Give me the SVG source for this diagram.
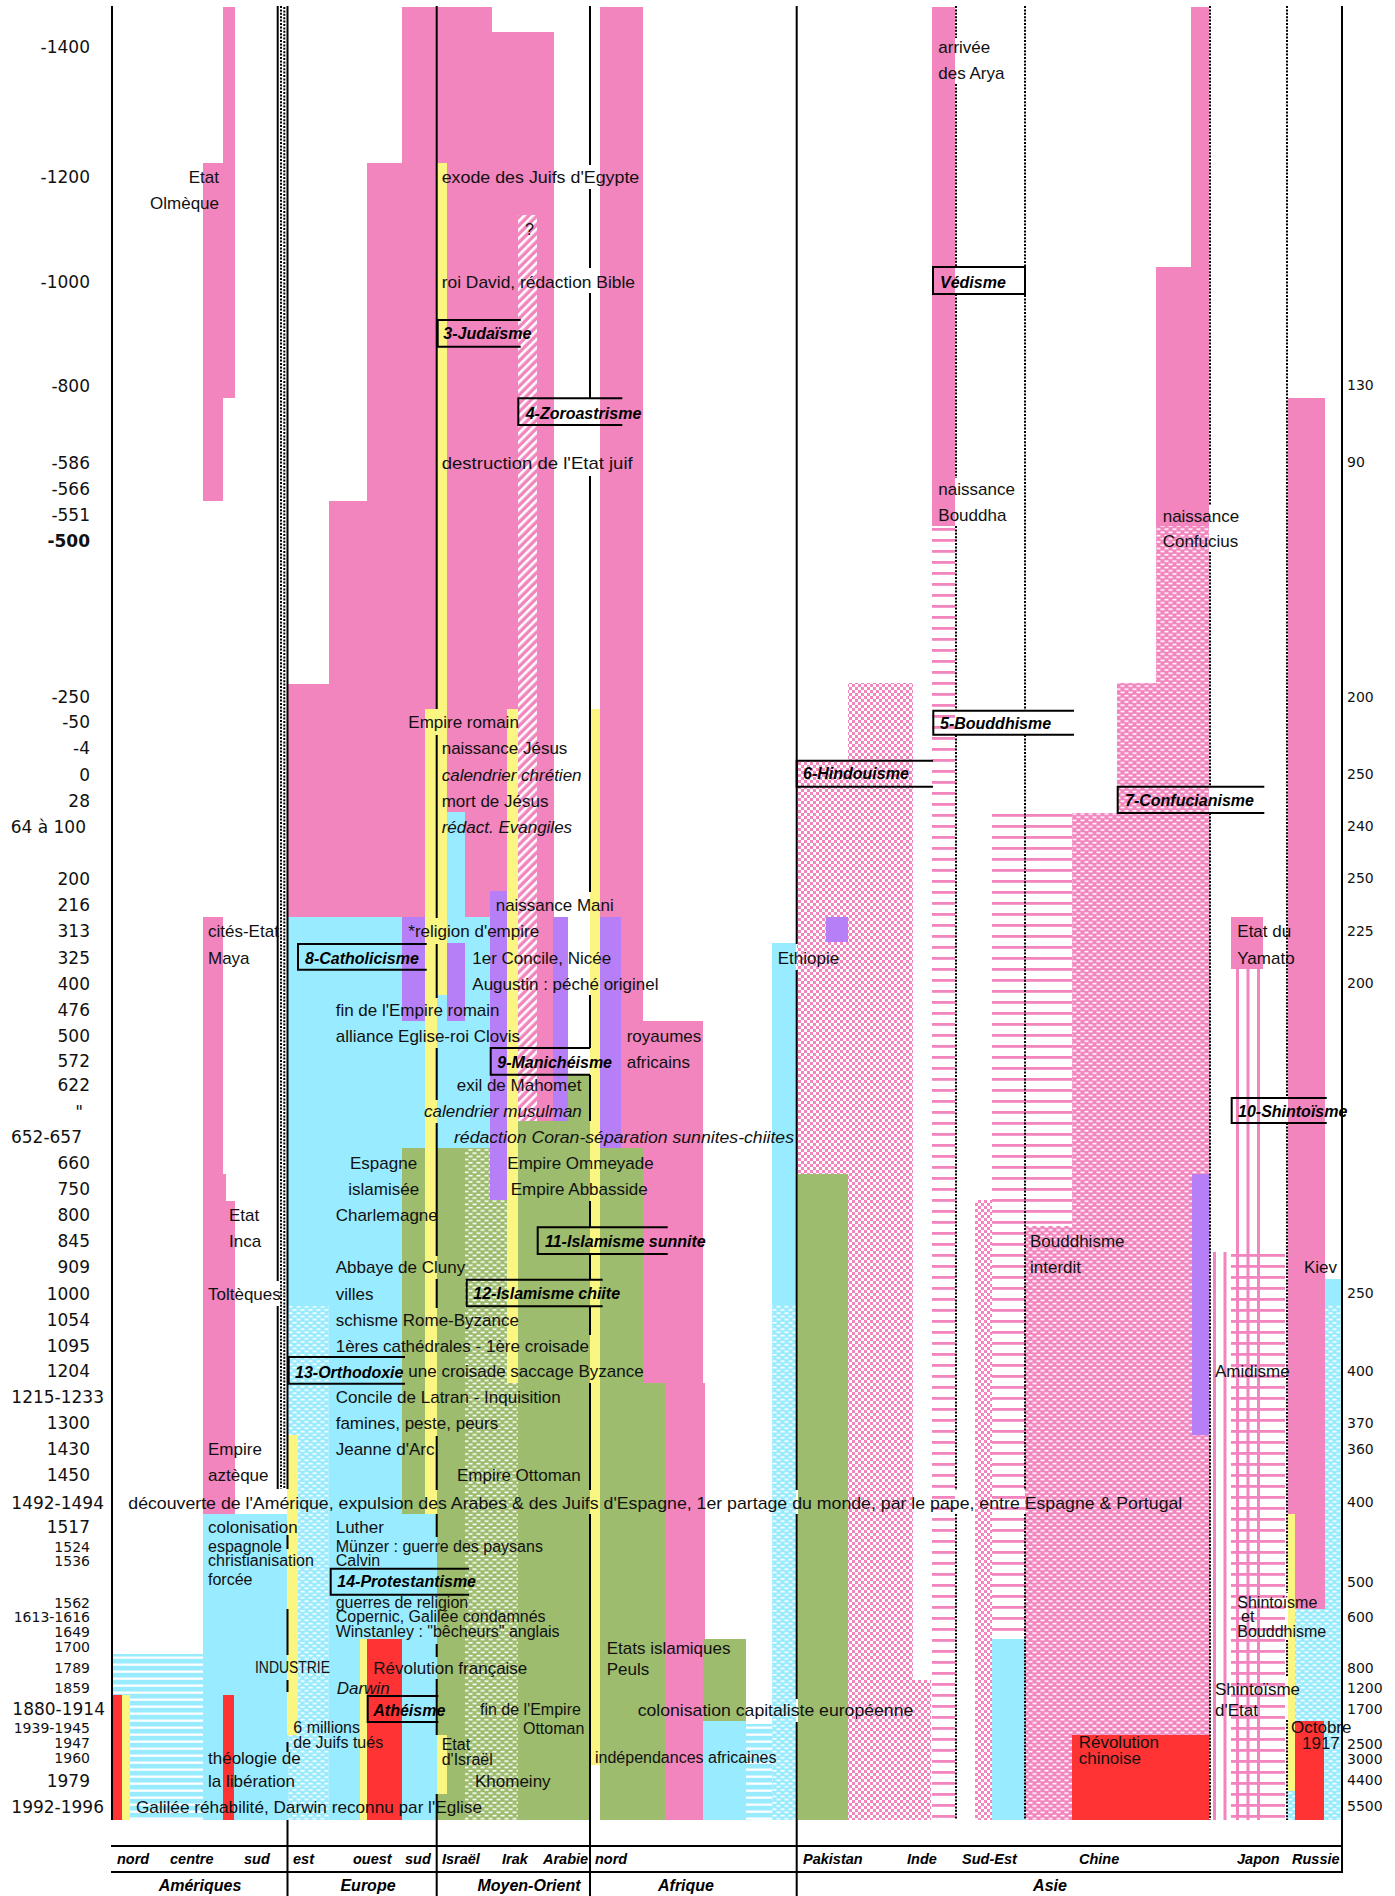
<svg xmlns="http://www.w3.org/2000/svg" width="1395" height="1896" viewBox="0 0 1395 1896">
<defs>
<style>
text{font-family:"Liberation Sans",Arial,sans-serif;font-size:17px;fill:#111}
.s{font-size:16px}
.it{font-style:italic}
.lb{font-weight:bold;font-style:italic;font-size:16px;fill:#000}
.yr{font-family:"DejaVu Sans",sans-serif;font-size:17px;text-anchor:end}
.ys{font-family:"DejaVu Sans",sans-serif;font-size:14px;text-anchor:end}
.rn{font-family:"DejaVu Sans",sans-serif;font-size:14px}
.bl{font-weight:bold;font-style:italic;font-size:14.5px;fill:#000}
.bm{font-weight:bold;font-style:italic;font-size:16px;fill:#000;text-anchor:middle}
.pk{fill:#F284BE}.cy{fill:#99EBFF}.ye{fill:#FBF581}.gr{fill:#9DBC6D}.pu{fill:#B77FF7}.rd{fill:#FF3333}
.ln{stroke:#000;stroke-width:2;fill:none}
.dt{stroke:#000;stroke-width:2;stroke-dasharray:2 1.4;fill:none}
.bx{stroke:#000;stroke-width:2;fill:none}
</style>
<pattern id="diag" width="6" height="6" patternUnits="userSpaceOnUse" patternTransform="rotate(45)">
<rect width="6" height="6" fill="#F284BE"/><rect width="2.6" height="6" fill="#fff"/>
</pattern>
<pattern id="chk" width="6" height="6" patternUnits="userSpaceOnUse">
<rect width="6" height="6" fill="#fff"/><rect width="3" height="3" fill="#F284BE"/><rect x="3" y="3" width="3" height="3" fill="#F284BE"/>
</pattern>
<pattern id="brp" width="8" height="6.4" patternUnits="userSpaceOnUse">
<rect width="8" height="6.4" fill="#F284BE"/><rect x="0.5" y="0.4" width="4" height="1.6" fill="#fff"/><rect x="4.5" y="3.6" width="3.5" height="1.6" fill="#fff"/><rect x="0" y="3.6" width="0.5" height="1.6" fill="#fff"/>
</pattern>
<pattern id="brc" width="8" height="6.4" patternUnits="userSpaceOnUse">
<rect width="8" height="6.4" fill="#99EBFF"/><rect x="0.5" y="0.4" width="4" height="1.6" fill="#fff"/><rect x="4.5" y="3.6" width="3.5" height="1.6" fill="#fff"/><rect x="0" y="3.6" width="0.5" height="1.6" fill="#fff"/>
</pattern>
<pattern id="brg" width="8" height="6.4" patternUnits="userSpaceOnUse">
<rect width="8" height="6.4" fill="#9DBC6D"/><rect x="0.5" y="0.4" width="4" height="1.6" fill="#fff"/><rect x="4.5" y="3.6" width="3.5" height="1.6" fill="#fff"/><rect x="0" y="3.6" width="0.5" height="1.6" fill="#fff"/>
</pattern>
<pattern id="hlp" width="10" height="11" patternUnits="userSpaceOnUse">
<rect width="10" height="2.8" fill="#F284BE"/>
</pattern>
<pattern id="hlc" width="10" height="7" patternUnits="userSpaceOnUse">
<rect width="10" height="7" fill="#99EBFF"/><rect y="4.5" width="10" height="2.3" fill="#fff"/>
</pattern>
</defs>
<rect width="1395" height="1896" fill="#fff"/>

<g id="americas">
<rect class="pk" x="223" y="7" width="12" height="391"/>
<rect class="pk" x="203" y="163" width="20" height="338"/>
<rect class="pk" x="203" y="917" width="20" height="597"/>
<rect class="pk" x="223" y="1174" width="3" height="340"/>
<rect class="pk" x="223" y="1201" width="12" height="313"/>
<rect class="cy" x="203" y="1514" width="84" height="306"/>
<rect fill="url(#hlc)" x="112" y="1654" width="91" height="166"/>
<rect class="rd" x="113" y="1695" width="9" height="125"/>
<rect class="ye" x="122" y="1695" width="8" height="125"/>
<rect class="rd" x="223" y="1695" width="11" height="125"/>
</g>

<g id="europe">
<rect class="pk" x="402" y="7" width="35" height="910"/>
<rect class="pk" x="367" y="163" width="35" height="754"/>
<rect class="pk" x="329" y="501" width="38" height="416"/>
<rect class="pk" x="287" y="684" width="42" height="233"/>
<rect class="cy" x="287" y="917" width="115" height="903"/>
<rect class="pu" x="402" y="917" width="23" height="104"/>
<rect class="cy" x="402" y="1021" width="23" height="127"/>
<rect class="gr" x="402" y="1148" width="23" height="366"/>
<rect class="cy" x="402" y="1514" width="35" height="306"/>
<rect class="ye" x="425" y="709" width="12" height="805"/>
<rect fill="url(#brc)" x="288" y="1306" width="41" height="514"/>
<rect class="ye" x="287" y="1435" width="11" height="300"/>
<rect class="ye" x="360" y="1639" width="7" height="181"/>
<rect class="rd" x="367" y="1639" width="35" height="181"/>
</g>

<g id="moyen-orient">
<rect class="pk" x="437" y="7" width="55" height="910"/>
<rect class="pk" x="492" y="32" width="62" height="1089"/>
<rect class="ye" x="437" y="163" width="10" height="832"/>
<rect class="cy" x="447" y="812" width="18" height="336"/>
<rect class="cy" x="437" y="995" width="10" height="153"/>
<rect class="pu" x="447" y="943" width="18" height="78"/>
<rect class="cy" x="465" y="917" width="25" height="231"/>
<rect class="pu" x="490" y="891" width="17" height="309"/>
<rect class="ye" x="507" y="709" width="11" height="674"/>
<rect fill="url(#diag)" x="518" y="215" width="19" height="906"/>
<rect class="pu" x="553" y="917" width="15" height="204"/>
<rect class="gr" x="437" y="1148" width="28" height="672"/>
<rect fill="url(#brg)" x="465" y="1148" width="25" height="672"/>
<rect fill="url(#brg)" x="490" y="1200" width="17" height="620"/>
<rect fill="url(#brg)" x="507" y="1383" width="11" height="437"/>
<rect class="gr" x="518" y="1121" width="72" height="699"/>
<rect class="gr" x="568" y="1075" width="22" height="46"/>
<rect class="ye" x="437" y="1735" width="10" height="59"/>
</g>

<g id="afrique">
<rect class="pk" x="600" y="7" width="43" height="1141"/>
<rect class="pu" x="600" y="917" width="21" height="231"/>
<rect class="gr" x="600" y="1148" width="43" height="672"/>
<rect class="pk" x="643" y="1021" width="60" height="362"/>
<rect class="gr" x="643" y="1383" width="22" height="437"/>
<rect class="pk" x="665" y="1383" width="40" height="437"/>
<rect class="ye" x="590" y="709" width="10" height="1056"/>
<rect class="gr" x="703" y="1639" width="43" height="82"/>
<rect class="cy" x="703" y="1721" width="43" height="99"/>
<rect fill="url(#hlc)" x="746" y="1724" width="26" height="96"/>
<rect class="cy" x="772" y="943" width="24" height="362"/>
<rect fill="url(#brc)" x="772" y="1305" width="24" height="515"/>
</g>

<g id="asie">
<rect fill="url(#chk)" x="797" y="761" width="51" height="413"/>
<rect class="gr" x="798" y="1174" width="50" height="646"/>
<rect fill="url(#chk)" x="848" y="683" width="65" height="1137"/>
<rect fill="url(#chk)" x="913" y="1680" width="18" height="140"/>
<rect class="pu" x="826" y="917" width="22" height="25"/>
<rect class="pk" x="932" y="7" width="23" height="519"/>
<rect fill="url(#hlp)" x="932" y="526" width="23" height="1294"/>
<rect fill="url(#hlp)" x="992" y="813" width="33" height="826"/>
<rect class="cy" x="992" y="1639" width="33" height="181"/>
<rect fill="url(#hlp)" x="1025" y="813" width="47" height="413"/>
<rect fill="url(#chk)" x="975" y="1200" width="17" height="620"/>
<rect class="pk" x="1191" y="7" width="18" height="519"/>
<rect class="pk" x="1156" y="267" width="35" height="259"/>
<rect fill="url(#brp)" x="1156" y="526" width="53" height="157"/>
<rect fill="url(#brp)" x="1117" y="683" width="92" height="130"/>
<rect fill="url(#brp)" x="1072" y="813" width="138" height="1007"/>
<rect fill="url(#brp)" x="1025" y="1226" width="47" height="594"/>
<rect class="pu" x="1192" y="1174" width="17" height="261"/>
<rect class="rd" x="1072" y="1735" width="137" height="85"/>
<rect class="pk" x="1231" y="917" width="32" height="52"/>
<rect class="pk" x="1236" y="969" width="3" height="851"/>
<rect class="pk" x="1246.5" y="969" width="3" height="851"/>
<rect class="pk" x="1257" y="969" width="3" height="851"/>
<rect class="pk" x="1213" y="1252" width="3" height="568"/>
<rect class="pk" x="1223.5" y="1252" width="3" height="568"/>
<rect fill="url(#hlp)" x="1231" y="1252" width="54" height="568"/>
<rect class="pk" x="1288" y="398" width="37" height="1211"/>
<rect class="cy" x="1325" y="1279" width="17" height="26"/>
<rect fill="url(#brc)" x="1325" y="1305" width="17" height="515"/>
<rect fill="url(#brc)" x="1288" y="1609" width="37" height="211"/>
<rect class="ye" x="1288" y="1514" width="7" height="277"/>
<rect class="rd" x="1295" y="1721" width="29" height="99"/>
</g>

<g id="connectors">
<path class="ln" d="M112 6V1820"/>
<path class="ln" d="M277.7 6V1281M277.7 1306V1489"/>
<path class="dt" d="M281 6V1489M284.3 7V1489"/>
<path class="ln" d="M287.5 6V1489M287.5 1535V1549M287.5 1609V1655M287.5 1680V1692M287.5 1742V1752M287.5 1820V1896"/>
<path class="ln" d="M436.7 6V709M436.7 735V918M436.7 944V998M436.7 1048V1100M436.7 1123V1256M436.7 1279V1308M436.7 1436V1490M436.7 1514V1537M436.7 1644V1657M436.7 1679V1735M436.7 1794V1896"/>
<path class="ln" d="M590 6V165M590 189V268M590 293V398M590 476V892M590 995V1048M590 1075V1121M590 1201V1228M590 1255V1280M590 1306V1335M590 1383V1490M590 1514V1896"/>
<path class="ln" d="M796.7 6V944M796.7 970V1490M796.7 1514V1699M796.7 1722V1896"/>
<path class="ln" d="M1342 6V1872"/>
<path class="ln" d="M111 1846H1343M111 1872H1343"/>
<path class="dt" d="M956 6V38M956 84V267M956 294V478M956 526V710M956 735V1490M956 1514V1820"/>
<path class="dt" d="M1025 6V710M1025 735V1490M1025 1514V1820"/>
<path class="dt" d="M1210 6V505M1210 552V787M1210 813V1820"/>
<path class="dt" d="M1287 6V1098M1287 1123V1593M1287 1640V1677M1287 1720V1820"/>
</g>

<g id="boxes">
<rect class="bx" x="933" y="267" width="92" height="27"/>
<path class="bx" d="M520.7 320H437.7V346.7H520.7"/>
<path class="bx" d="M622.3 398.3H518.3V425H622.3"/>
<path class="bx" d="M1074 710.7H933.3V734.7H1074"/>
<path class="bx" d="M933 760.7H796.7V786.7H933"/>
<path class="bx" d="M1264.3 786.7H1117.7V813H1264.3"/>
<path class="bx" d="M426.7 944H298V969.7H426.7"/>
<path class="bx" d="M590 1048H490.7V1074.7H590"/>
<path class="bx" d="M1326.7 1098H1231.7V1123H1326.7"/>
<path class="bx" d="M667.7 1227.3H537.7V1254H667.7"/>
<path class="bx" d="M602.7 1279.7H466.7V1306.3H602.7"/>
<path class="bx" d="M405 1357H288.7V1383.7H405"/>
<path class="bx" d="M469 1568.7H330.7V1594.7H469"/>
<path class="bx" d="M438.3 1696H367.7V1722H438.3"/>
</g>

<g id="years">
<text class="yr" x="90" y="53">-1400</text>
<text class="yr" x="90" y="183">-1200</text>
<text class="yr" x="90" y="288">-1000</text>
<text class="yr" x="90" y="392">-800</text>
<text class="yr" x="90" y="469">-586</text>
<text class="yr" x="90" y="495">-566</text>
<text class="yr" x="90" y="521">-551</text>
<text class="yr" x="90" y="547" font-weight="bold">-500</text>
<text class="yr" x="90" y="703">-250</text>
<text class="yr" x="90" y="728">-50</text>
<text class="yr" x="90" y="754">-4</text>
<text class="yr" x="90" y="781">0</text>
<text class="yr" x="90" y="807">28</text>
<text class="yr" x="86" y="833">64 à 100</text>
<text class="yr" x="90" y="885">200</text>
<text class="yr" x="90" y="911">216</text>
<text class="yr" x="90" y="937">313</text>
<text class="yr" x="90" y="964">325</text>
<text class="yr" x="90" y="990">400</text>
<text class="yr" x="90" y="1016">476</text>
<text class="yr" x="90" y="1042">500</text>
<text class="yr" x="90" y="1067">572</text>
<text class="yr" x="90" y="1091">622</text>
<text class="yr" x="83" y="1118">"</text>
<text class="yr" x="82" y="1143">652-657</text>
<text class="yr" x="90" y="1169">660</text>
<text class="yr" x="90" y="1195">750</text>
<text class="yr" x="90" y="1221">800</text>
<text class="yr" x="90" y="1247">845</text>
<text class="yr" x="90" y="1273">909</text>
<text class="yr" x="90" y="1300">1000</text>
<text class="yr" x="90" y="1326">1054</text>
<text class="yr" x="90" y="1352">1095</text>
<text class="yr" x="90" y="1377">1204</text>
<text class="yr" x="104" y="1403">1215-1233</text>
<text class="yr" x="90" y="1429">1300</text>
<text class="yr" x="90" y="1455">1430</text>
<text class="yr" x="90" y="1481">1450</text>
<text class="yr" x="104" y="1509">1492-1494</text>
<text class="yr" x="90" y="1533">1517</text>
<text class="ys" x="90" y="1551.5">1524</text>
<text class="ys" x="90" y="1565.5">1536</text>
<text class="ys" x="90" y="1608">1562</text>
<text class="ys" x="90" y="1622">1613-1616</text>
<text class="ys" x="90" y="1636.5">1649</text>
<text class="ys" x="90" y="1651.5">1700</text>
<text class="ys" x="90" y="1673">1789</text>
<text class="ys" x="90" y="1693">1859</text>
<text class="yr" x="105" y="1715">1880-1914</text>
<text class="ys" x="90" y="1733">1939-1945</text>
<text class="ys" x="90" y="1748">1947</text>
<text class="ys" x="90" y="1763">1960</text>
<text class="yr" x="90" y="1787">1979</text>
<text class="yr" x="104" y="1813">1992-1996</text>
</g>

<g id="right-numbers">
<text class="rn" x="1347" y="390">130</text>
<text class="rn" x="1347" y="467">90</text>
<text class="rn" x="1347" y="702">200</text>
<text class="rn" x="1347" y="779">250</text>
<text class="rn" x="1347" y="831">240</text>
<text class="rn" x="1347" y="883">250</text>
<text class="rn" x="1347" y="936">225</text>
<text class="rn" x="1347" y="988">200</text>
<text class="rn" x="1347" y="1298">250</text>
<text class="rn" x="1347" y="1376">400</text>
<text class="rn" x="1347" y="1428">370</text>
<text class="rn" x="1347" y="1454">360</text>
<text class="rn" x="1347" y="1507">400</text>
<text class="rn" x="1347" y="1587">500</text>
<text class="rn" x="1347" y="1622">600</text>
<text class="rn" x="1347" y="1673">800</text>
<text class="rn" x="1347" y="1693">1200</text>
<text class="rn" x="1347" y="1714">1700</text>
<text class="rn" x="1347" y="1749">2500</text>
<text class="rn" x="1347" y="1764">3000</text>
<text class="rn" x="1347" y="1785">4400</text>
<text class="rn" x="1347" y="1811">5500</text>
</g>

<g id="labels-americas">
<text x="219" y="183" text-anchor="end">Etat</text>
<text x="219" y="209" text-anchor="end">Olmèque</text>
<text x="208" y="937">cités-Etat</text>
<text x="208" y="964">Maya</text>
<text x="229" y="1221">Etat</text>
<text x="229" y="1247">Inca</text>
<text x="208" y="1300">Toltèques</text>
<text x="208" y="1455">Empire</text>
<text x="208" y="1481">aztèque</text>
<text x="128.3" y="1509" textLength="1054" lengthAdjust="spacingAndGlyphs">découverte de l'Amérique, expulsion des Arabes &amp; des Juifs d'Espagne, 1er partage du monde, par le pape, entre Espagne &amp; Portugal</text>
<text x="208" y="1533">colonisation</text>
<text class="s" x="208" y="1551.5">espagnole</text>
<text class="s" x="208" y="1565.5">christianisation</text>
<text class="s" x="208" y="1584.5">forcée</text>
<text class="s" x="255" y="1673" textLength="75" lengthAdjust="spacingAndGlyphs">INDUSTRIE</text>
<text x="208" y="1764">théologie de</text>
<text x="208" y="1787">la libération</text>
<text x="136" y="1813" textLength="346" lengthAdjust="spacingAndGlyphs">Galilée réhabilité, Darwin reconnu par l'Eglise</text>
</g>

<g id="labels-europe">
<text class="lb" x="305" y="964">8-Catholicisme</text>
<text x="335.7" y="1016">fin de l'Empire romain</text>
<text x="335.7" y="1042">alliance Eglise-roi Clovis</text>
<text x="350" y="1169">Espagne</text>
<text x="348.3" y="1195">islamisée</text>
<text x="335.7" y="1221">Charlemagne</text>
<text x="335.7" y="1273">Abbaye de Cluny</text>
<text x="335.7" y="1300">villes</text>
<text x="335.7" y="1326">schisme Rome-Byzance</text>
<text x="335.7" y="1352">1ères cathédrales - 1ère croisade</text>
<text class="lb" x="295" y="1378">13-Orthodoxie</text>
<text x="408.3" y="1377">une croisade saccage Byzance</text>
<text x="335.7" y="1403">Concile de Latran - Inquisition</text>
<text x="335.7" y="1429">famines, peste, peurs</text>
<text x="335.7" y="1455">Jeanne d'Arc</text>
<text x="335.7" y="1533">Luther</text>
<text class="s" x="335.7" y="1551.5">Münzer : guerre des paysans</text>
<text class="s" x="335.7" y="1565.5">Calvin</text>
<text class="lb" x="337.3" y="1587">14-Protestantisme</text>
<text class="s" x="335.7" y="1608">guerres de religion</text>
<text class="s" x="335.7" y="1622">Copernic, Galilée condamnés</text>
<text class="s" x="335.7" y="1636.5">Winstanley : "bêcheurs" anglais</text>
<text x="373.3" y="1674">Révolution française</text>
<text class="it" x="336.7" y="1694">Darwin</text>
<text class="lb" x="373.3" y="1716">Athéisme</text>
<text class="s" x="293.3" y="1733">6 millions</text>
<text class="s" x="293.3" y="1748">de Juifs tués</text>
</g>

<g id="labels-moyen-orient">
<text x="441.7" y="183" textLength="197.6" lengthAdjust="spacingAndGlyphs">exode des Juifs d'Egypte</text>
<text class="s" x="525" y="235">?</text>
<text x="441.7" y="288" textLength="193.3" lengthAdjust="spacingAndGlyphs">roi David, rédaction Bible</text>
<text class="lb" x="443.3" y="339">3-Judaïsme</text>
<text class="lb" x="525.7" y="419">4-Zoroastrisme</text>
<text x="441.7" y="469" textLength="191" lengthAdjust="spacingAndGlyphs">destruction de l'Etat juif</text>
<text x="408.3" y="728">Empire romain</text>
<text x="441.7" y="754">naissance Jésus</text>
<text class="it" x="441.7" y="781">calendrier chrétien</text>
<text x="441.7" y="807">mort de Jésus</text>
<text class="it" x="441.7" y="833">rédact. Evangiles</text>
<text x="495.7" y="911">naissance Mani</text>
<text x="408.3" y="937">*religion d'empire</text>
<text x="472.3" y="964">1er Concile, Nicée</text>
<text x="472.3" y="990">Augustin : péché originel</text>
<text class="lb" x="497.3" y="1068">9-Manichéisme</text>
<text x="456.7" y="1091">exil de Mahomet</text>
<text class="it" x="424" y="1117">calendrier musulman</text>
<text class="it" x="454" y="1143" textLength="340" lengthAdjust="spacingAndGlyphs">rédaction Coran-séparation sunnites-chiites</text>
<text x="507.3" y="1169">Empire Ommeyade</text>
<text x="510.7" y="1195">Empire Abbasside</text>
<text class="lb" x="545" y="1247">11-Islamisme sunnite</text>
<text class="lb" x="473.3" y="1299">12-Islamisme chiite</text>
<text x="457" y="1481">Empire Ottoman</text>
<text class="s" x="480" y="1715">fin de l'Empire</text>
<text class="s" x="584.3" y="1734" text-anchor="end">Ottoman</text>
<text class="s" x="441.7" y="1750">Etat</text>
<text class="s" x="441.7" y="1765">d'Israël</text>
<text x="475" y="1787">Khomeiny</text>
</g>

<g id="labels-afrique">
<text x="626.7" y="1042">royaumes</text>
<text x="626.7" y="1068">africains</text>
<text x="777.7" y="964">Ethiopie</text>
<text x="606.7" y="1654">Etats islamiques</text>
<text x="606.7" y="1675">Peuls</text>
<text x="637.7" y="1716" textLength="275.6" lengthAdjust="spacingAndGlyphs">colonisation capitaliste européenne</text>
<text class="s" x="595" y="1763">indépendances africaines</text>
</g>

<g id="labels-asie">
<text x="938.3" y="53">arrivée</text>
<text x="938.3" y="79">des Arya</text>
<text class="lb" x="940" y="288">Védisme</text>
<text x="938.3" y="495">naissance</text>
<text x="938.3" y="521">Bouddha</text>
<text x="1162.7" y="522">naissance</text>
<text x="1162.7" y="547">Confucius</text>
<text class="lb" x="940" y="729">5-Bouddhisme</text>
<text class="lb" x="803" y="779">6-Hindouisme</text>
<text class="lb" x="1125" y="806">7-Confucianisme</text>
<text x="1237.3" y="937">Etat du</text>
<text x="1237.3" y="964">Yamato</text>
<text class="lb" x="1238" y="1117" font-size="13.5">10-Shintoïsme</text>
<text x="1030" y="1247">Bouddhisme</text>
<text x="1030" y="1273">interdit</text>
<text x="1304" y="1273">Kiev</text>
<text x="1215" y="1377">Amidisme</text>
<text class="s" x="1237.3" y="1608">Shintoïsme</text>
<text class="s" x="1241" y="1622">et</text>
<text class="s" x="1237.3" y="1636.5">Bouddhisme</text>
<text x="1215" y="1695">Shintoïsme</text>
<text x="1215" y="1716">d'Etat</text>
<text x="1078.7" y="1748" font-size="15.5">Révolution</text>
<text x="1078.7" y="1764" font-size="15.5">chinoise</text>
<text x="1291" y="1733" font-size="13">Octobre</text>
<text x="1302" y="1749" font-size="8.5">1917</text>
</g>

<g id="axis-labels">
<text class="bl" x="117" y="1864">nord</text>
<text class="bl" x="170" y="1864">centre</text>
<text class="bl" x="244" y="1864">sud</text>
<text class="bl" x="293" y="1864">est</text>
<text class="bl" x="353" y="1864">ouest</text>
<text class="bl" x="405" y="1864">sud</text>
<text class="bl" x="442" y="1864" font-size="13.5">Israël</text>
<text class="bl" x="502" y="1864" font-size="13.5">Irak</text>
<text class="bl" x="543" y="1864" font-size="13.5">Arabie</text>
<text class="bl" x="595" y="1864">nord</text>
<text class="bl" x="803" y="1864">Pakistan</text>
<text class="bl" x="907" y="1864">Inde</text>
<text class="bl" x="962" y="1864">Sud-Est</text>
<text class="bl" x="1079" y="1864">Chine</text>
<text class="bl" x="1237" y="1864">Japon</text>
<text class="bl" x="1292" y="1864">Russie</text>
<text class="bm" x="200" y="1891">Amériques</text>
<text class="bm" x="368" y="1891">Europe</text>
<text class="bm" x="529" y="1891">Moyen-Orient</text>
<text class="bm" x="686" y="1891">Afrique</text>
<text class="bm" x="1050" y="1891">Asie</text>
</g>
</svg>
